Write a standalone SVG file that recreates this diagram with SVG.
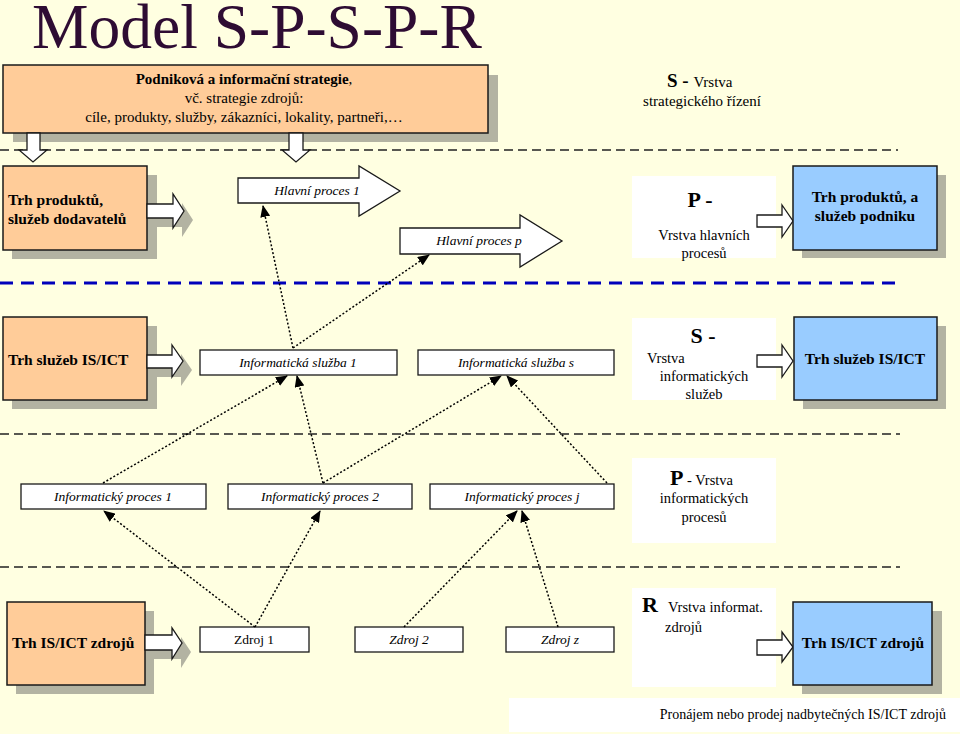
<svg xmlns="http://www.w3.org/2000/svg" width="960" height="734" viewBox="0 0 960 734">
<defs>
<style>
text{font-family:"Liberation Serif","Times New Roman",serif;fill:#000}
.box{stroke:#1a1a1a;stroke-width:1.5}
.or{fill:#ffcc99}
.bl{fill:#99ccff}
.sh{fill:#b3b3a2}
.wb{fill:#fff;stroke:#1a1a1a;stroke-width:1.3}
.ba{fill:#fff;stroke:#1a1a1a;stroke-width:1.3}
.bt{font-weight:bold;font-size:15.5px}
.it{font-style:italic;font-size:13.5px}
.rg{font-size:13.5px}
.dot{fill:none;stroke:#000;stroke-width:1.5;stroke-dasharray:2 2;marker-end:url(#ah)}
.dash{fill:none;stroke:#222;stroke-width:1.6;stroke-dasharray:9 5}
</style>
<marker id="ah" markerUnits="userSpaceOnUse" markerWidth="12" markerHeight="10" refX="11" refY="5" orient="auto">
<path d="M0,0 L12,5 L0,10 Z" fill="#000"/>
</marker>
</defs>
<rect width="960" height="734" fill="#ffffe1"/>

<text x="32" y="48" style="font-size:63.5px;fill:#2e0c33">Model S-P-S-P-R</text>

<g id="separators">
<line x1="0" y1="150" x2="898" y2="150" class="dash" stroke-width="1.4"/>
<line x1="0" y1="283" x2="902" y2="283" style="fill:none;stroke:#0000bb;stroke-width:3.2;stroke-dasharray:13 8"/>
<line x1="0" y1="434" x2="900" y2="434" class="dash"/>
<line x1="0" y1="567" x2="900" y2="567" class="dash"/>
</g>

<g id="strategy">
<rect x="13" y="75" width="485" height="67" class="sh"/>
<rect x="3" y="65" width="485" height="68" class="or box"/>
<text x="244" y="84" text-anchor="middle" style="font-size:15px"><tspan font-weight="bold">Podniková a informační strategie</tspan>,</text>
<text x="244" y="103" text-anchor="middle" style="font-size:15px">vč. strategie zdrojů:</text>
<text x="244" y="122" text-anchor="middle" style="font-size:15px">cíle, produkty, služby, zákazníci, lokality, partneři,…</text>
<path d="M27,133 V150 H19 L33,162 L47,150 H40 V133 Z" class="ba"/>
<path d="M289,133 V150 H282 L296,162 L310,150 H303 V133 Z" class="ba"/>
</g>

<g id="layer-s1">
<text x="667" y="87" style="font-size:19px;font-weight:bold">S - <tspan style="font-size:15px;font-weight:normal">Vrstva</tspan></text>
<text x="702" y="106" text-anchor="middle" style="font-size:15px">strategického řízení</text>
</g>

<g id="trh-dodavatelu">
<rect x="12" y="175" width="145" height="84" class="sh"/>
<path d="M156,213 H182 V203 L193,220 L182,237 V227 H156 Z" class="sh"/>
<rect x="3" y="166" width="144" height="84" class="or box"/>
<path d="M147,204 H173 V194 L184,211 L173,228 V218 H147 Z" class="ba"/>
<text x="8" y="205" class="bt">Trh produktů,</text>
<text x="8" y="224" class="bt">služeb dodavatelů</text>
</g>

<g id="hlavni-proces-1">
<path d="M238,178 H359 V166 L400,191 L359,216 V203 H238 Z" class="ba"/>
<text x="317" y="195" text-anchor="middle" class="it">Hlavní proces 1</text>
</g>

<g id="hlavni-proces-p">
<path d="M400,228 H520 V215 L562,241 L520,267 V254 H400 Z" class="ba"/>
<text x="479" y="245" text-anchor="middle" class="it">Hlavní proces p</text>
</g>

<g id="layer-p1">
<rect x="632" y="176" width="144" height="82" fill="#fff"/>
<text x="700" y="207" text-anchor="middle" style="font-size:22px;font-weight:bold">P -</text>
<text x="704" y="240" text-anchor="middle" style="font-size:14.5px">Vrstva hlavních</text>
<text x="704" y="258" text-anchor="middle" style="font-size:14.5px">procesů</text>
<path d="M757,215 H782 V205 L793,221 L782,237 V227 H757 Z" class="ba"/>
</g>

<g id="trh-podniku">
<rect x="802" y="175" width="144" height="83" class="sh"/>
<rect x="793" y="166" width="144" height="84" class="bl box"/>
<text x="865" y="202" text-anchor="middle" class="bt">Trh produktů, a</text>
<text x="865" y="221" text-anchor="middle" class="bt">služeb podniku</text>
</g>

<g id="trh-sluzeb-ict-in">
<rect x="12" y="326" width="145" height="83" class="sh"/>
<path d="M156,364 H181 V354 L192,370 L181,386 V377 H156 Z" class="sh"/>
<rect x="3" y="317" width="144" height="83" class="or box"/>
<path d="M147,355 H172 V345 L183,361 L172,377 V368 H147 Z" class="ba"/>
<text x="8" y="365" class="bt">Trh služeb IS/ICT</text>
</g>

<g id="inf-sluzba-1">
<rect x="200" y="350" width="197" height="25" class="wb"/>
<text x="298" y="367" text-anchor="middle" class="it">Informatická služba 1</text>
</g>

<g id="inf-sluzba-s">
<rect x="418" y="350" width="196" height="25" class="wb"/>
<text x="516" y="367" text-anchor="middle" class="it">Informatická služba s</text>
</g>

<g id="layer-s2">
<rect x="632" y="318" width="144" height="82" fill="#fff"/>
<text x="703" y="343" text-anchor="middle" style="font-size:22px;font-weight:bold">S -</text>
<text x="647" y="363" style="font-size:14.5px">Vrstva</text>
<text x="704" y="381" text-anchor="middle" style="font-size:14.5px">informatických</text>
<text x="704" y="399" text-anchor="middle" style="font-size:14.5px">služeb</text>
<path d="M757,355 H782 V345 L793,361 L782,377 V367 H757 Z" class="ba"/>
</g>

<g id="trh-sluzeb-ict-out">
<rect x="803" y="326" width="143" height="83" class="sh"/>
<rect x="794" y="317" width="143" height="83" class="bl box"/>
<text x="865" y="364" text-anchor="middle" class="bt">Trh služeb IS/ICT</text>
</g>

<g id="inf-proces-1">
<rect x="21" y="484" width="185" height="25" class="wb"/>
<text x="113" y="501" text-anchor="middle" class="it">Informatický proces 1</text>
</g>

<g id="inf-proces-2">
<rect x="228" y="484" width="184" height="25" class="wb"/>
<text x="320" y="501" text-anchor="middle" class="it">Informatický proces 2</text>
</g>

<g id="inf-proces-j">
<rect x="430" y="484" width="184" height="25" class="wb"/>
<text x="522" y="501" text-anchor="middle" class="it">Informatický proces j</text>
</g>

<g id="layer-p2">
<rect x="632" y="458" width="144" height="85" fill="#fff"/>
<text x="670" y="485" style="font-size:22px;font-weight:bold">P<tspan style="font-size:14.5px;font-weight:normal"> - Vrstva</tspan></text>
<text x="704" y="503" text-anchor="middle" style="font-size:14.5px">informatických</text>
<text x="704" y="522" text-anchor="middle" style="font-size:14.5px">procesů</text>
</g>

<g id="trh-zdroju-in">
<rect x="16" y="611" width="138" height="83" class="sh"/>
<path d="M154,644 H181 V637 L191,652 L181,668 V659 H154 Z" class="sh"/>
<rect x="7" y="602" width="138" height="83" class="or box"/>
<path d="M145,635 H172 V628 L182,643 L172,659 V650 H145 Z" class="ba"/>
<text x="12" y="648" class="bt">Trh IS/ICT zdrojů</text>
</g>

<g id="zdroj-1">
<rect x="200" y="627" width="109" height="25" class="wb"/>
<text x="254" y="644" text-anchor="middle" class="rg">Zdroj 1</text>
</g>

<g id="zdroj-2">
<rect x="355" y="627" width="108" height="25" class="wb"/>
<text x="409" y="644" text-anchor="middle" class="it">Zdroj 2</text>
</g>

<g id="zdroj-z">
<rect x="506" y="627" width="108" height="25" class="wb"/>
<text x="560" y="644" text-anchor="middle" class="it">Zdroj z</text>
</g>

<g id="layer-r">
<rect x="632" y="588" width="144" height="99" fill="#fff"/>
<text x="642" y="612" style="font-size:22px;font-weight:bold">R</text>
<text x="668" y="612" style="font-size:14.5px">Vrstva informat.</text>
<text x="665" y="632" style="font-size:14.5px">zdrojů</text>
<path d="M757,640 H782 V632 L793,647 L782,662 V655 H757 Z" class="ba"/>
</g>

<g id="trh-zdroju-out">
<rect x="802" y="611" width="140" height="83" class="sh"/>
<rect x="793" y="602" width="139" height="83" class="bl box"/>
<text x="863" y="648" text-anchor="middle" class="bt">Trh IS/ICT zdrojů</text>
</g>

<g id="pronajem">
<rect x="509" y="698" width="451" height="34" fill="#fff"/>
<text x="946" y="719" text-anchor="end" style="font-size:14px">Pronájem nebo prodej nadbytečných IS/ICT zdrojů</text>
</g>

<g id="connectors">
<line x1="293" y1="348" x2="263" y2="206" class="dot"/>
<line x1="293" y1="348" x2="429" y2="255" class="dot"/>
<line x1="103" y1="483" x2="287" y2="376" class="dot"/>
<line x1="323" y1="483" x2="297" y2="376" class="dot"/>
<line x1="323" y1="483" x2="501" y2="376" class="dot"/>
<line x1="607" y1="483" x2="507" y2="376" class="dot"/>
<line x1="255" y1="627" x2="104" y2="511" class="dot"/>
<line x1="255" y1="627" x2="320" y2="511" class="dot"/>
<line x1="404" y1="627" x2="517" y2="511" class="dot"/>
<line x1="558" y1="627" x2="522" y2="511" class="dot"/>
</g>
</svg>
